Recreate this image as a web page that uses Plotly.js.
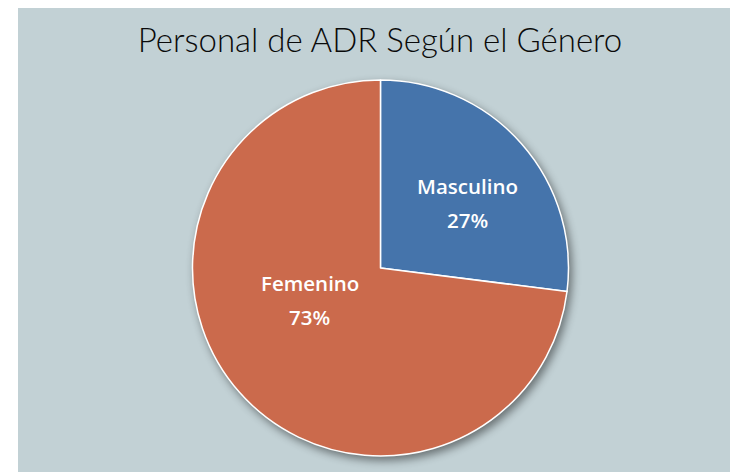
<!DOCTYPE html>
<html>
<head>
<meta charset="utf-8">
<script src="https://cdn.plot.ly/plotly-3.0.1.min.js"></script>
<style>
html, body { margin: 0; padding: 0; background: #ffffff; width: 730px; height: 472px; overflow: hidden; }
#panel { position: absolute; left: 18px; top: 8px; width: 712px; height: 464px; background: #c2d1d5; }
#chart { width: 712px; height: 464px; }
.pielayer { filter: drop-shadow(3px 4px 4px rgba(0,0,0,0.45)); }
</style>
</head>
<body>
<div id="panel"><div id="chart"></div></div>
<script>
const chartTitle = 'Personal de ADR Según el Género';
const categories = ['Masculino', 'Femenino'];
const values = [27, 73];
const colors = ['#4574ab', '#cb6a4c'];

// label anchor positions (paper coords) for each slice's text
const labelPos = [[0.632, 0.676], [0.410, 0.418]];

const total = values.reduce((a, b) => a + b, 0);
const labelFont = { family: 'Open Sans, sans-serif', size: 20.5, color: '#ffffff', weight: 600 };

const annotations = [];
categories.forEach((c, i) => {
  annotations.push({
    xref: 'paper', yref: 'paper', x: labelPos[i][0], y: labelPos[i][1],
    xanchor: 'center', yanchor: 'bottom', yshift: 0,
    text: c, showarrow: false, font: labelFont
  });
  annotations.push({
    xref: 'paper', yref: 'paper', x: labelPos[i][0], y: labelPos[i][1],
    xanchor: 'center', yanchor: 'top', yshift: -2,
    text: Math.round(values[i] / total * 100) + '%', showarrow: false, font: labelFont
  });
});

const trace = {
  type: 'pie',
  labels: categories,
  values: values,
  sort: false,
  direction: 'clockwise',
  rotation: 0,
  marker: { colors: colors, line: { color: '#ffffff', width: 1.5 } },
  textinfo: 'none',
  hoverinfo: 'none',
  showlegend: false,
  domain: { x: [0.2282, 0.7900], y: [0, 1] }
};

const layout = {
  width: 712,
  height: 464,
  margin: { l: 0, r: 0, t: 72, b: 16 },
  paper_bgcolor: 'rgba(0,0,0,0)',
  plot_bgcolor: 'rgba(0,0,0,0)',
  annotations: annotations,
  title: {
    text: chartTitle,
    x: 0.5084, xanchor: 'center',
    y: 0.931, yanchor: 'middle',
    font: { family: 'Lato, sans-serif', size: 33, color: '#0a0a0a', weight: 300 }
  }
};

Plotly.newPlot('chart', [trace], layout, { displayModeBar: false, staticPlot: true });
</script>
</body>
</html>
